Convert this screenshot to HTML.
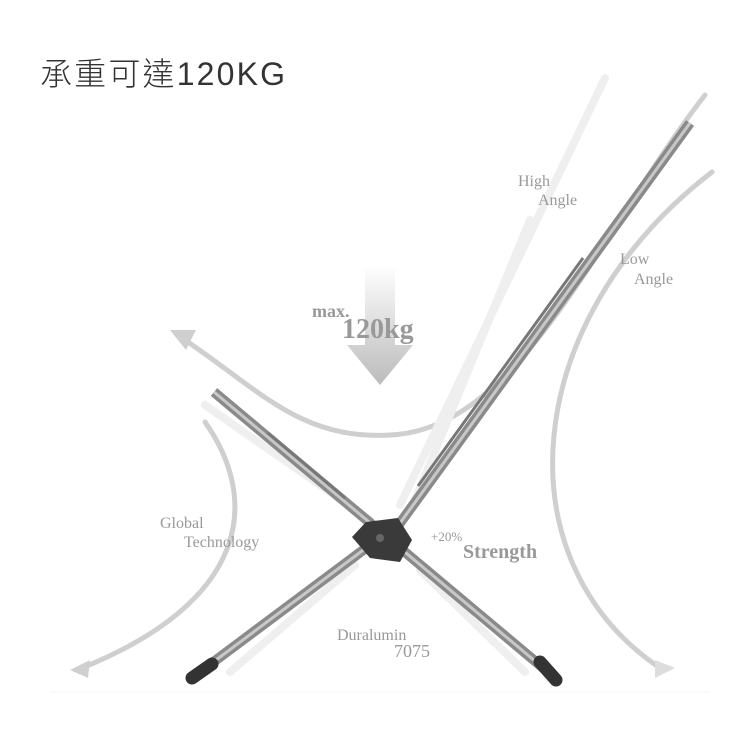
<!DOCTYPE html>
<html><head><meta charset="utf-8"><style>
body{margin:0;background:#fff}
svg{display:block}
.s{font-family:"Liberation Serif",serif;fill:#999}
</style></head><body>
<svg width="750" height="750" viewBox="0 0 750 750">
<defs>
<linearGradient id="dn" x1="0" y1="0" x2="0" y2="1">
<stop offset="0" stop-color="#fff"/><stop offset="1" stop-color="#bbb"/></linearGradient>
</defs>
<text x="40" y="85" font-family="'Liberation Sans','Noto Sans CJK TC',sans-serif" font-size="32" fill="#333" font-weight="300" textLength="245">承重可達120KG</text>
<!-- swoosh curves -->
<g fill="none" stroke="#cfcfcf" stroke-width="5" stroke-linecap="round">
<path d="M182 338 C260 390 300 440 390 435 C520 430 600 230 705 95"/>
<path d="M205 422 C260 500 250 600 82 668"/>
<path d="M712 172 C520 320 500 560 660 668"/>
</g>
<polygon points="170,330 196,330 186,350" fill="#cfcfcf"/>
<polygon points="70,670 90,660 88,678" fill="#cfcfcf"/>
<polygon points="675,668 655,660 655,678" fill="#ddd"/>
<!-- down arrow -->
<polygon points="365,265 395,265 395,345 413,345 380,385 347,345 365,345" fill="url(#dn)"/>
<!-- ghost poles -->
<g stroke="#efefef" stroke-width="8" stroke-linecap="round">
<line x1="605" y1="78" x2="400" y2="505"/>
<line x1="530" y1="220" x2="415" y2="500"/>
<line x1="205" y1="405" x2="370" y2="520"/>
<line x1="230" y1="672" x2="355" y2="565"/>
<line x1="525" y1="672" x2="420" y2="570"/>
</g>
<!-- poles -->
<g stroke-linecap="butt">
<line x1="214" y1="392" x2="548" y2="672" stroke="#8a8a8a" stroke-width="10"/>
<line x1="214" y1="392" x2="548" y2="672" stroke="#c8c8c8" stroke-width="3"/>
<line x1="395" y1="530" x2="690" y2="123" stroke="#8a8a8a" stroke-width="10"/>
<line x1="395" y1="530" x2="690" y2="123" stroke="#c8c8c8" stroke-width="3"/>
<line x1="200" y1="672" x2="370" y2="545" stroke="#8a8a8a" stroke-width="10"/>
<line x1="200" y1="672" x2="370" y2="545" stroke="#c8c8c8" stroke-width="3"/>
<line x1="583" y1="258" x2="418" y2="486" stroke="#777" stroke-width="3"/>
<line x1="268" y1="433" x2="345" y2="498" stroke="#777" stroke-width="3"/>
</g>
<!-- feet -->
<line x1="192" y1="678" x2="212" y2="664" stroke="#333" stroke-width="13" stroke-linecap="round"/>
<line x1="540" y1="662" x2="556" y2="680" stroke="#333" stroke-width="13" stroke-linecap="round"/>
<!-- joint -->
<polygon points="352,537 366,522 398,518 412,540 400,562 370,558" fill="#3a3a3a"/>
<circle cx="380" cy="538" r="4" fill="#666"/>
<!-- labels -->
<text class="s" x="518" y="186" font-size="16">High</text>
<text class="s" x="538" y="205" font-size="16">Angle</text>
<text class="s" x="620" y="264" font-size="16">Low</text>
<text class="s" x="634" y="284" font-size="16">Angle</text>
<text class="s" x="312" y="317" font-size="18" font-weight="bold">max.</text>
<text class="s" x="342" y="338" font-size="28" font-weight="bold">120kg</text>
<text class="s" x="160" y="528" font-size="16">Global</text>
<text class="s" x="184" y="547" font-size="16">Technology</text>
<text class="s" x="431" y="541" font-size="13">+20%</text>
<text class="s" x="463" y="558" font-size="20" font-weight="bold">Strength</text>
<text class="s" x="337" y="640" font-size="16">Duralumin</text>
<text class="s" x="394" y="657" font-size="18">7075</text>
<line x1="50" y1="692" x2="710" y2="692" stroke="#f3f3f3" stroke-width="1"/>
</svg>
</body></html>
